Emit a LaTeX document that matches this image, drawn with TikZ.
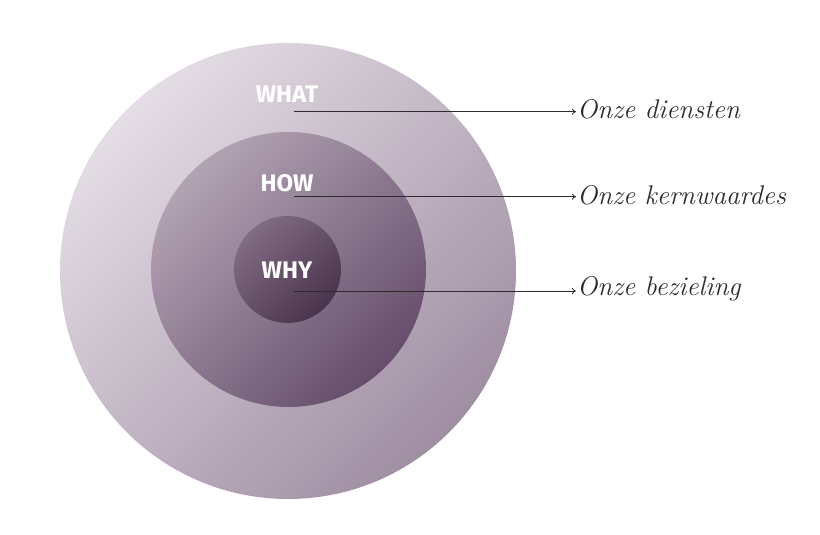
\documentclass[tikz,border=0pt]{standalone}
\usepackage{fontspec}
\setsansfont{Fira Sans}
\usetikzlibrary{arrows.meta}
\definecolor{outerL}{HTML}{E4DDE5}
\definecolor{outerD}{HTML}{A08EA3}
\definecolor{midL}{HTML}{B2A3B3}
\definecolor{midD}{HTML}{664E6C}
\definecolor{innL}{HTML}{826C84}
\definecolor{innD}{HTML}{4A334C}
\definecolor{linecol}{HTML}{2E2A2E}
\tikzset{
  x=1pt,y=1pt,
  ring/.style n args={2}{circle,inner sep=0pt,top color=#1,bottom color=#2,shading angle=45},
  lbl/.style={font=\sffamily\bfseries\fontsize{24}{24}\selectfont,text=white,inner sep=0pt},
  script/.style={font=\itshape\fontsize{27}{27}\selectfont,text=linecol,anchor=west,inner sep=1pt},
  conn/.style={draw=linecol,line width=0.8pt,-{To[length=4pt,width=6pt]}}
}
\begin{document}
\begin{tikzpicture}
\fill[white] (0,0) rectangle (820,535);
\useasboundingbox (0,0) rectangle (820,535);
\node[ring={outerL}{outerD},minimum size=456pt] (outer) at (288,264) {};
\node[ring={midL}{midD},minimum size=275pt] (middle) at (288.5,265.5) {};
\node[ring={innL}{innD},minimum size=107pt] (inner) at (287.5,265.5) {};
\node[lbl] (what) at (287,441) {WHAT};
\node[lbl] (how) at (287,352) {HOW};
\node[lbl] (why) at (287,265) {WHY};
\coordinate (s1) at (294,423.3);
\coordinate (s2) at (294,338.3);
\coordinate (s3) at (294,244);
\node[script] (t1) at (576,426) {Onze diensten};
\node[script] (t2) at (576,340) {Onze kernwaardes};
\node[script] (t3) at (576,246) {Onze bezieling};
\draw[conn] (s1) -- (s1 -| t1.west);
\draw[conn] (s2) -- (s2 -| t2.west);
\draw[conn] (s3) -- (s3 -| t3.west);
\end{tikzpicture}
\end{document}
